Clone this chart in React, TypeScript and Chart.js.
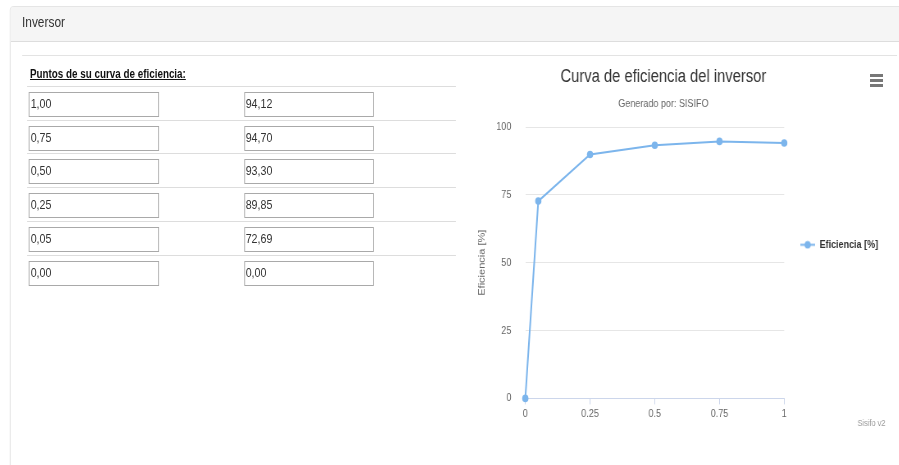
import React, { useEffect, useRef } from "react";
import { Chart, registerables } from "chart.js";

Chart.register(...registerables);

// ---- data ----
const potencias = [1.0, 0.75, 0.5, 0.25, 0.05, 0.0];
const eficiencias = [94.12, 94.7, 93.3, 89.85, 72.69, 0.0];
const xTicks = [0, 0.25, 0.5, 0.75, 1];
const yTicks = [0, 25, 50, 75, 100];
const seriesName = "Eficiencia [%]";
const yAxisTitle = "Eficiencia [%]";
const chartTitle = "Curva de eficiencia del inversor";
const chartSubtitle = "Generado por: SISIFO";
const creditsText = "Sisifo v2";
const panelTitle = "Inversor";
const tableTitle = "Puntos de su curva de eficiencia:";

// The reference is horizontally compressed; reproduce it with a scaleX on the page.
const S = 0.82;
const ux = (screenX: number) => screenX / S;

const FONT = "'Liberation Sans', Arial, sans-serif";
const SERIES_COLOR = "#7cb5ec";

// chart canvas placement (screen px)
const CH_LEFT = 431;
const CH_TOP = 60;
const CH_W = 464;
const CH_H = 380;
const cx = (screenX: number) => (screenX - CH_LEFT) / S;

const fmt = (v: number) => v.toFixed(2).replace(".", ",");

function makeLegendSymbol(): HTMLCanvasElement {
  const c = document.createElement("canvas");
  c.width = 18;
  c.height = 9;
  const ctx = c.getContext("2d")!;
  ctx.strokeStyle = SERIES_COLOR;
  ctx.lineWidth = 2;
  ctx.beginPath();
  ctx.moveTo(0, 4.5);
  ctx.lineTo(18, 4.5);
  ctx.stroke();
  ctx.fillStyle = SERIES_COLOR;
  ctx.beginPath();
  ctx.arc(9, 4.5, 3.8, 0, Math.PI * 2);
  ctx.fill();
  return c;
}

const creditsPlugin = {
  id: "credits",
  afterDraw(chart: any) {
    const ctx = chart.ctx;
    ctx.save();
    ctx.font = `9px ${FONT}`;
    ctx.fillStyle = "#999999";
    ctx.textAlign = "right";
    ctx.textBaseline = "middle";
    ctx.fillText(creditsText, cx(885), chart.height - 16);
    ctx.restore();
  },
};

// Adds empty room on the right side of the legend box (keeps title centred on the full width)
const legendRoomPlugin = {
  id: "legendRoom",
  beforeUpdate(chart: any) {
    const lg = chart.legend;
    if (lg && !lg.__roomPatched) {
      const orig = lg.fit.bind(lg);
      lg.fit = function () {
        orig();
        this.width += 11.1;
      };
      lg.__roomPatched = true;
    }
  },
};

function EfficiencyChart() {
  const ref = useRef<HTMLCanvasElement | null>(null);
  useEffect(() => {
    if (!ref.current) return;
    const symbol = makeLegendSymbol();
    const points = potencias
      .map((p, i) => ({ x: p, y: eficiencias[i] }))
      .sort((a, b) => a.x - b.x);
    const chart = new Chart(ref.current, {
      type: "line",
      data: {
        datasets: [
          {
            label: seriesName,
            data: points,
            borderColor: SERIES_COLOR,
            backgroundColor: SERIES_COLOR,
            borderWidth: 2,
            pointRadius: 3.8,
            pointBorderWidth: 0,
            pointBackgroundColor: SERIES_COLOR,
            tension: 0,
            clip: false as any,
          },
        ],
      },
      options: {
        animation: false,
        responsive: false,
        layout: { padding: { top: 6, left: 0, right: 0, bottom: 16.4 } },
        plugins: {
          title: {
            display: true,
            text: chartTitle,
            color: "#333333",
            font: { family: FONT, size: 18, weight: "normal" as any },
            padding: { top: 0, bottom: 5 },
          },
          subtitle: {
            display: true,
            text: chartSubtitle,
            color: "#666666",
            font: { family: FONT, size: 11 },
            padding: { top: 4.8, bottom: 16.4 },
          },
          legend: {
            display: true,
            position: "right",
            labels: {
              usePointStyle: true,
              pointStyleWidth: 18,
              padding: cx(800) - cx(784),
              color: "#333333",
              font: { family: FONT, size: 11, weight: "bold" as any },
              generateLabels: (c: any) => {
                const items = (Chart.defaults.plugins.legend.labels as any).generateLabels(c);
                return items.map((it: any) => ({ ...it, pointStyle: symbol }));
              },
            },
          },
          tooltip: { enabled: false },
        },
        scales: {
          x: {
            type: "linear",
            min: 0,
            max: 1,
            afterBuildTicks: (s: any) => {
              s.ticks = xTicks.map((v) => ({ value: v }));
            },
            ticks: {
              color: "#666666",
              font: { family: FONT, size: 11 },
              padding: 3,
              maxRotation: 0,
              autoSkip: false,
              callback: (v: any) => String(v),
            },
            grid: {
              display: true,
              drawOnChartArea: false,
              drawTicks: true,
              tickLength: 6,
              color: "#ccd6eb",
            },
            border: { display: true, color: "#ccd6eb" },
          },
          y: {
            type: "linear",
            min: 0,
            max: 100,
            afterBuildTicks: (s: any) => {
              s.ticks = yTicks.map((v) => ({ value: v }));
            },
            afterFit: (s: any) => {
              s.width = cx(525);
            },
            ticks: {
              color: "#666666",
              font: { family: FONT, size: 11 },
              padding: 14 / S,
              callback: (v: any) => String(v),
            },
            grid: { color: "#e6e6e6", drawTicks: false },
            border: { display: false },
            title: {
              display: true,
              text: yAxisTitle,
              color: "#666666",
              font: { family: FONT, size: 11 },
              padding: { top: cx(482) - 6.6, bottom: 4 },
            },
          },
        },
      },
      plugins: [legendRoomPlugin, creditsPlugin],
    } as any);
    return () => chart.destroy();
  }, []);
  return (
    <canvas
      ref={ref}
      width={Math.round(CH_W / S)}
      height={CH_H}
      style={{ display: "block" }}
    />
  );
}

export default function App() {
  const rowTop = (i: number) => Math.round(86 + i * 33.7);
  return (
    <div
      style={{
        position: "fixed",
        left: 0,
        top: 0,
        width: 899,
        height: 465,
        background: "#ffffff",
        overflow: "hidden",
      }}
    >
      <div
        style={{
          position: "absolute",
          left: 0,
          top: 0,
          width: ux(899),
          height: 465,
          transform: `scaleX(${S})`,
          transformOrigin: "0 0",
          fontFamily: FONT,
        }}
      >
        {/* panel frame */}
        <div
          style={{
            position: "absolute",
            left: ux(10),
            top: 6,
            width: 1300,
            height: 600,
            border: "1px solid #e2e2e2",
            borderRadius: 4,
            boxSizing: "border-box",
          }}
        />
        {/* header */}
        <div
          style={{
            position: "absolute",
            left: ux(10) + 1,
            top: 7,
            width: 1300,
            height: 34,
            background: "#f5f5f5",
            borderBottom: "1px solid #dddddd",
            borderTopLeftRadius: 3,
          }}
        />
        <div
          style={{
            position: "absolute",
            left: ux(22),
            top: 15.4,
            fontSize: 14.5,
            lineHeight: 1,
            color: "#333333",
            whiteSpace: "nowrap",
          }}
        >
          {panelTitle}
        </div>
        {/* body separator */}
        <div
          style={{
            position: "absolute",
            left: ux(22),
            top: 55,
            width: ux(897) - ux(22),
            height: 1,
            background: "#e3e3e3",
          }}
        />
        {/* table title */}
        <div
          style={{
            position: "absolute",
            left: ux(30),
            top: 68,
            fontSize: 12,
            lineHeight: 1,
            fontWeight: "bold",
            textDecoration: "underline",
            color: "#111111",
            whiteSpace: "nowrap",
          }}
        >
          {tableTitle}
        </div>
        {potencias.map((p, i) => (
          <React.Fragment key={i}>
            <div
              style={{
                position: "absolute",
                left: ux(27),
                top: rowTop(i),
                width: ux(456) - ux(27),
                height: 1,
                background: "#dddddd",
              }}
            />
            {[
              { left: 29, value: fmt(p) },
              { left: 244, value: fmt(eficiencias[i]) },
            ].map((c, j) => (
              <input
                key={j}
                readOnly
                value={c.value}
                style={{
                  position: "absolute",
                  left: ux(c.left),
                  top: rowTop(i) + 6,
                  width: 130 / S,
                  height: 25,
                  boxSizing: "border-box",
                  border: "1px solid #a9a9a9",
                  borderRadius: 0,
                  padding: "0 2px 3px 1px",
                  margin: 0,
                  fontFamily: FONT,
                  fontSize: 13,
                  color: "#333333",
                  background: "#ffffff",
                  outline: "none",
                }}
              />
            ))}
          </React.Fragment>
        ))}
        {/* chart */}
        <div
          style={{
            position: "absolute",
            left: ux(CH_LEFT),
            top: CH_TOP,
            width: CH_W / S,
            height: CH_H,
          }}
        >
          <EfficiencyChart />
        </div>
      </div>
      {/* menu icon */}
      {[74, 79, 84].map((t) => (
        <div
          key={t}
          style={{
            position: "absolute",
            left: 870,
            top: t,
            width: 13,
            height: 3,
            background: "#777777",
          }}
        />
      ))}
    </div>
  );
}
